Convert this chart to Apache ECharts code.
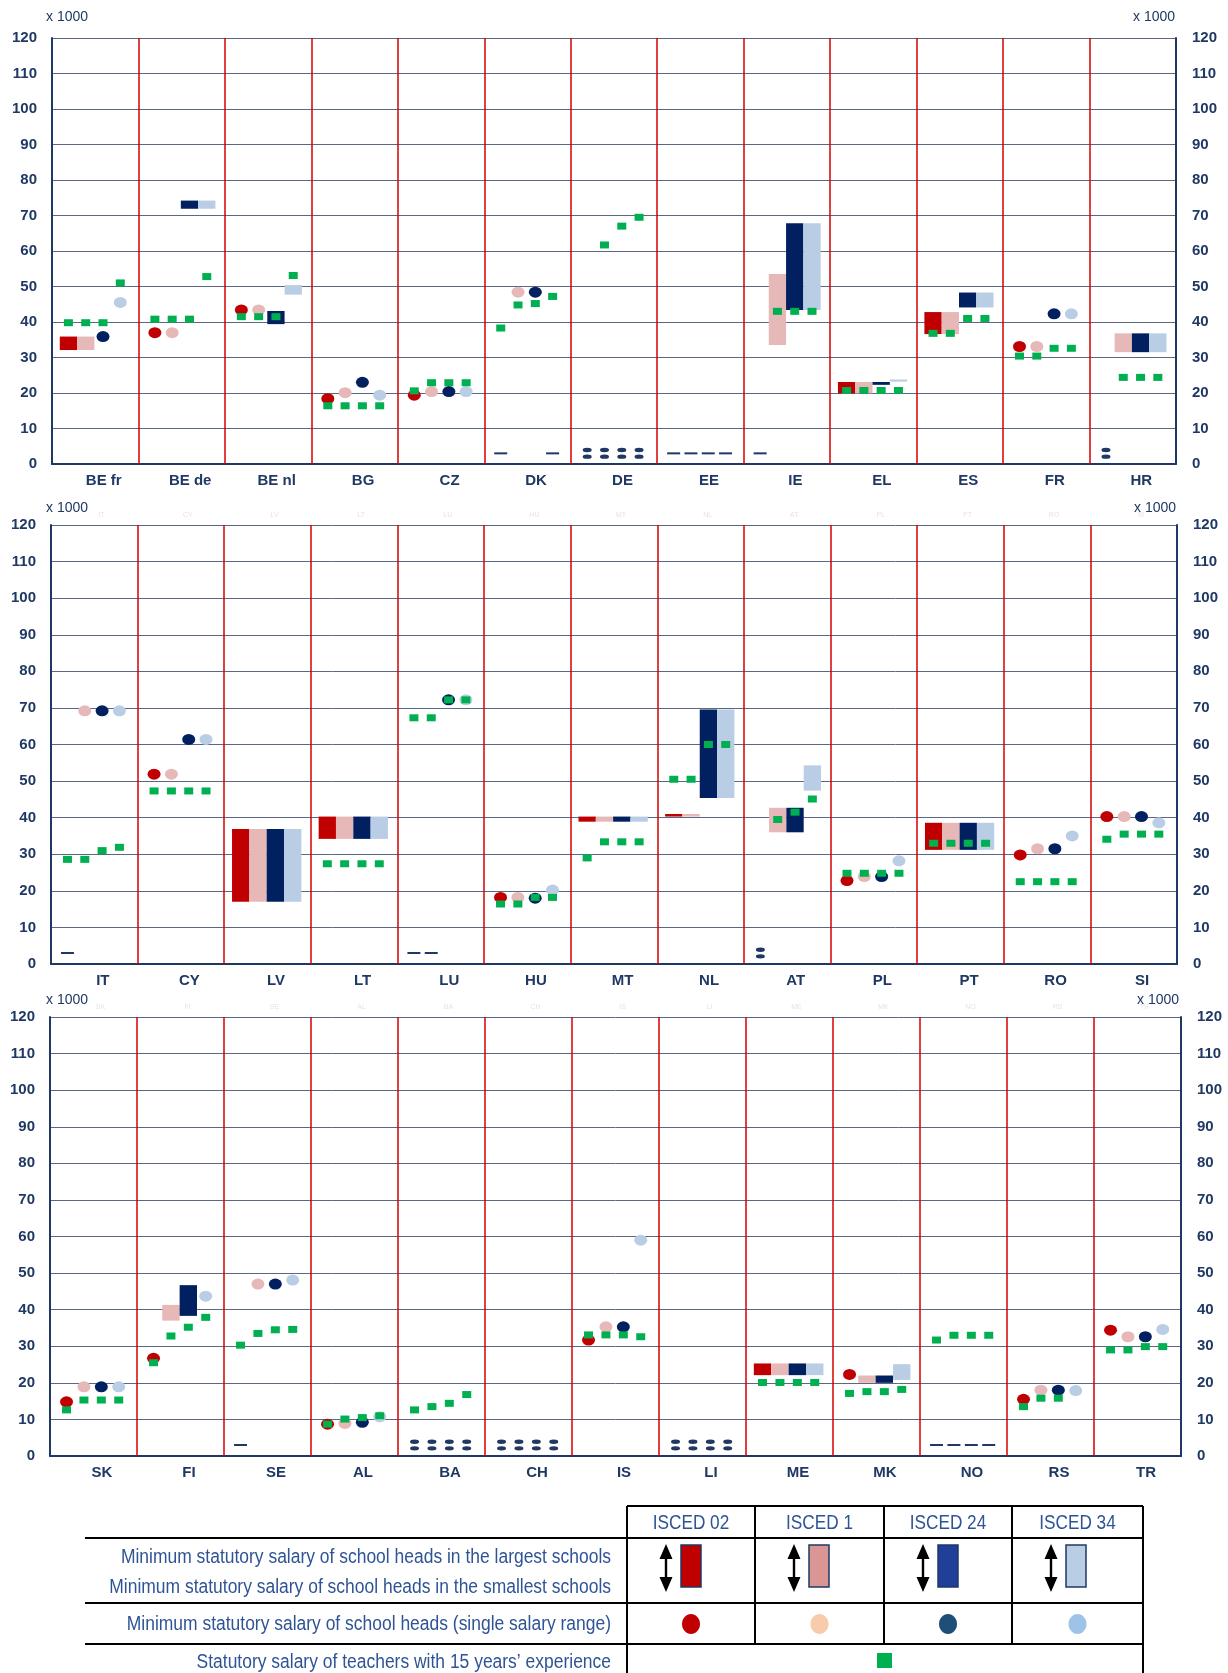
<!DOCTYPE html>
<html>
<head>
<meta charset="utf-8">
<script src="https://cdn.jsdelivr.net/npm/echarts@6/dist/echarts.min.js"></script>
<style>
html, body { margin: 0; padding: 0; background: #fff; }
#chartBox { width: 1228px; height: 1673px; }
</style>
</head>
<body>
<div id="chartBox"></div>
<script>
const _ = null

// countries, 13 per panel
const countries1 = ['BE fr', 'BE de', 'BE nl', 'BG', 'CZ', 'DK', 'DE', 'EE', 'IE', 'EL', 'ES', 'FR', 'HR']
const countries2 = ['IT', 'CY', 'LV', 'LT', 'LU', 'HU', 'MT', 'NL', 'AT', 'PL', 'PT', 'RO', 'SI']
const countries3 = ['SK', 'FI', 'SE', 'AL', 'BA', 'CH', 'IS', 'LI', 'ME', 'MK', 'NO', 'RS', 'TR']

// values x 1000, one row per panel
// min = smallest schools, max = largest schools, single = single salary range
// notes: '-' not applicable, ':' not available
const min02 = [
  32.1, _, _, _, _, _, _, _, _, 19.9, 36.6, _, _,
  _, _, 17.0, 34.2, _, _, 38.9, 40.3, _, _, 31.2, _, _,
  _, _, _, _, _, _, _, _, 22.1, _, _, _, _]
const max02 = [
  35.9, _, _, _, _, _, _, _, _, 23.1, 42.8, _, _,
  _, _, 36.9, 40.3, _, _, 40.3, 41.0, _, _, 38.6, _, _,
  _, _, _, _, _, _, _, _, 25.3, _, _, _, _]
const single02 = [
  _, 37.0, 43.4, 18.4, 19.4, _, _, _, _, _, _, 33.1, _,
  _, 51.9, _, _, _, 18.2, _, _, _, 22.8, _, 29.8, 40.3,
  14.8, 26.7, _, 8.7, _, _, 31.7, _, _, 22.3, _, 15.5, 34.4]
const teacher02 = [
  39.8, 40.8, 41.5, 16.4, 20.6, 38.3, _, _, _, 20.7, 36.8, 30.4, _,
  28.6, 47.3, _, 27.4, 67.3, 16.4, 29.0, 50.5, _, 24.8, 33.0, 22.5, 34.1,
  12.6, 25.5, 30.3, 8.7, 12.6, _, 33.1, _, 20.1, 17.1, 31.7, 13.5, 29.0]
const notes02 = [
  '', '', '', '', '', '-', ':', '-', '-', '', '', '', ':',
  '-', '', '', '', '-', '', '', '', ':', '', '', '', '',
  '', '', '-', '', ':', ':', '', ':', '', '', '-', '', '']

const min1 = [
  32.1, _, _, _, _, _, _, _, 33.5, 19.9, 36.6, _, 31.5,
  _, _, 17.0, 34.2, _, _, 38.9, 40.3, 36.0, _, 31.2, _, _,
  _, 37.0, _, _, _, _, _, _, 22.1, 20.0, _, _, _]
const max1 = [
  35.9, _, _, _, _, _, _, _, 53.5, 23.1, 42.8, _, 36.8,
  _, _, 36.9, 40.3, _, _, 40.3, 41.0, 42.7, _, 38.6, _, _,
  _, 41.3, _, _, _, _, _, _, 25.3, 22.0, _, _, _]
const single1 = [
  _, 37.0, 43.4, 20.1, 20.4, 48.4, _, _, _, _, _, 33.1, _,
  69.2, 51.9, _, _, _, 18.2, _, _, _, 23.9, _, 31.5, 40.3,
  18.9, _, 47.0, 8.9, _, _, 35.3, _, _, _, _, 18.0, 32.6]
const teacher1 = [
  39.8, 40.8, 41.5, 16.4, 22.9, 44.8, 61.7, _, 43.0, 20.7, 36.8, 30.4, 24.4,
  28.6, 47.3, _, 27.4, 67.3, 16.4, 33.4, 50.5, 39.5, 24.8, 33.0, 22.5, 35.5,
  15.3, 32.8, 33.5, 10.1, 13.5, _, 33.1, _, 20.1, 17.6, 33.0, 15.8, 29.0]
const notes1 = [
  '', '', '', '', '', '', ':', '-', '', '', '', '', '',
  '', '', '', '', '-', '', '', '', '', '', '', '', '',
  '', '', '', '', ':', ':', '', ':', '', '', '-', '', '']

const min24 = [
  _, 71.9, 39.4, _, _, _, _, _, 43.4, 22.3, 44.1, _, 31.5,
  _, _, 17.0, 34.2, _, _, 38.9, 45.4, 36.0, _, 31.2, _, _,
  _, 38.3, _, _, _, _, _, _, 22.1, 20.0, _, _, _]
const max24 = [
  _, 74.2, 43.1, _, _, _, _, _, 67.8, 23.1, 48.3, _, 36.8,
  _, _, 36.9, 40.3, _, _, 40.3, 69.6, 42.7, _, 38.6, _, _,
  _, 46.7, _, _, _, _, _, _, 25.3, 22.0, _, _, _]
const single24 = [
  35.9, _, _, 23.0, 20.4, 48.4, _, _, _, _, _, 42.3, _,
  69.2, 61.4, _, _, 72.2, 18.0, _, _, _, 23.9, _, 31.5, 40.3,
  18.9, _, 47.0, 9.2, _, _, 35.3, _, _, _, _, 18.0, 32.6]
const teacher24 = [
  39.8, 40.8, 41.5, 16.4, 22.9, 45.2, 67.0, _, 43.0, 20.7, 41.0, 32.6, 24.4,
  31.0, 47.3, _, 27.4, 72.2, 18.2, 33.4, 60.0, 41.5, 24.8, 33.0, 22.5, 35.5,
  15.3, 35.2, 34.5, 10.5, 14.4, _, 33.1, _, 20.1, 17.6, 33.0, 15.8, 29.9]
const notes24 = [
  '', '', '', '', '', '', ':', '-', '', '', '', '', '',
  '', '', '', '', '', '', '', '', '', '', '', '', '',
  '', '', '', '', ':', ':', '', ':', '', '', '-', '', '']

const min34 = [
  _, 71.9, 47.7, _, _, _, _, _, 43.4, 23.2, 44.1, _, 31.5,
  _, _, 17.0, 34.2, _, _, 38.9, 45.4, 47.4, _, 31.2, _, _,
  _, _, _, _, _, _, _, _, 22.1, 20.8, _, _, _]
const max34 = [
  _, 74.2, 50.4, _, _, _, _, _, 67.8, 23.8, 48.3, _, 36.8,
  _, _, 36.9, 40.3, _, _, 40.3, 69.6, 54.3, _, 38.6, _, _,
  _, _, _, _, _, _, _, _, 25.3, 25.1, _, _, _]
const single34 = [
  45.5, _, _, 19.4, 20.4, _, _, _, _, _, _, 42.3, _,
  69.2, 61.4, _, _, 72.2, 20.2, _, _, _, 28.2, _, 35.0, 38.6,
  18.9, 43.7, 48.1, 10.7, _, _, 59.0, _, _, _, _, 17.9, 34.6]
const teacher34 = [
  51.0, 52.8, 53.1, 16.4, 22.9, 47.2, 69.5, _, 43.0, 20.7, 41.0, 32.6, 24.4,
  31.9, 47.3, _, 27.4, 72.2, 18.2, 33.4, 60.0, 45.1, 24.8, 33.0, 22.5, 35.5,
  15.3, 37.9, 34.6, 11.0, 16.8, _, 32.6, _, 20.1, 18.2, 33.0, _, 29.9]
const notes34 = [
  '', '', '', '', '', '-', ':', '-', '', '', '', '', '',
  '', '', '', '', '', '', '', '', '', '', '', '', '',
  '', '', '', '', ':', ':', '', ':', '', '', '-', '', '']

const levelNames = ['ISCED 02', 'ISCED 1', 'ISCED 24', 'ISCED 34']
const noteLevel = 3 // height of the '-' and ':' marks

const FONT = '"Liberation Sans", Arial, sans-serif'
const NAVY = '#1f3864'

const levels = [
  { min: min02, max: max02, single: single02, teacher: teacher02, notes: notes02, color: '#c00000' },
  { min: min1, max: max1, single: single1, teacher: teacher1, notes: notes1, color: '#e6b9b8' },
  { min: min24, max: max24, single: single24, teacher: teacher24, notes: notes24, color: '#002060' },
  { min: min34, max: max34, single: single34, teacher: teacher34, notes: notes34, color: '#b9cde5' }
]
const panels = [countries1, countries2, countries3]
const grids = [
  { left: 52, right: 52, top: 38, height: 426 },
  { left: 51, right: 51, top: 525, height: 439 },
  { left: 50, right: 47, top: 1017, height: 439 }
]

// position of the slot of level j inside country i
function slotX (i, j) {
  return i + 0.19 + 0.2 * j
}

function renderRange (params, api) {
  let lo = api.coord([api.value(0) - 0.1, api.value(1)])
  let hi = api.coord([api.value(0) + 0.1, api.value(2)])
  return {
    type: 'rect',
    shape: { x: lo[0], y: hi[1], width: hi[0] - lo[0], height: lo[1] - hi[1] },
    style: { fill: api.visual('color') }
  }
}

let xAxis = []
let yAxis = []
let series = []

panels.forEach((names, p) => {
  let off = p * 13
  xAxis.push({ gridIndex: p, type: 'value', min: 0, max: 13, show: false })
  xAxis.push({
    gridIndex: p, type: 'category', position: 'bottom', data: names,
    axisLine: { lineStyle: { color: NAVY, width: 2 } },
    axisTick: { show: false },
    axisLabel: { color: NAVY, fontWeight: 'bold', fontSize: 15, fontFamily: FONT, margin: 9, padding: [0, 0, 0, 17] },
    splitLine: { show: false }
  })
  xAxis.push({
    gridIndex: p, type: 'category', position: 'top', data: names, show: p > 0,
    axisLine: { show: false }, axisTick: { show: false },
    axisLabel: { color: '#e4e4e4', fontSize: 7, fontFamily: FONT, margin: 6, padding: [0, 0, 0, 14] }
  })
  yAxis.push({
    gridIndex: p, type: 'value', min: 0, max: 120, interval: 10, position: 'left',
    axisLine: { show: true, lineStyle: { color: NAVY, width: 2 } },
    axisTick: { show: false },
    axisLabel: { color: NAVY, fontWeight: 'bold', fontSize: 15, fontFamily: FONT, margin: 15 },
    splitLine: { lineStyle: { color: '#5b6785', width: 1 } }
  })
  yAxis.push({
    gridIndex: p, type: 'value', min: 0, max: 120, interval: 10, position: 'right',
    axisLine: { show: true, lineStyle: { color: NAVY, width: 2 } },
    axisTick: { show: false },
    axisLabel: { color: NAVY, fontWeight: 'bold', fontSize: 15, fontFamily: FONT, margin: 16 },
    splitLine: { show: false }
  })

  let xi = p * 3
  let yi = p * 2

  // red separators between countries
  series.push({
    type: 'scatter', xAxisIndex: xi, yAxisIndex: yi, data: [], z: 1, silent: true,
    markLine: {
      silent: true, symbol: 'none', animation: false,
      label: { show: false },
      lineStyle: { color: '#d40000', width: 1.5, type: 'solid' },
      data: names.slice(1).map((n, k) => ({ xAxis: k + 1 }))
    }
  })

  levels.forEach((lv, j) => {
    let bars = []
    let dots = []
    let greens = []
    let dashes = []
    let missing = []
    names.forEach((n, i) => {
      let k = off + i
      let x = slotX(i, j)
      if (lv.min[k] != null) bars.push([x, lv.min[k], lv.max[k]])
      if (lv.single[k] != null) dots.push([x, lv.single[k]])
      if (lv.teacher[k] != null) greens.push([x, lv.teacher[k]])
      if (lv.notes[k] === '-') dashes.push([x, noteLevel])
      if (lv.notes[k] === ':') missing.push([x, noteLevel])
    })
    series.push({
      name: levelNames[j], type: 'custom', xAxisIndex: xi, yAxisIndex: yi, z: 2,
      itemStyle: { color: lv.color },
      encode: { x: 0, y: [1, 2] },
      renderItem: renderRange,
      data: bars
    })
    series.push({
      name: levelNames[j], type: 'scatter', xAxisIndex: xi, yAxisIndex: yi, z: 3,
      symbol: 'circle', symbolSize: [13, 11],
      itemStyle: { color: lv.color, opacity: 1 },
      data: dots
    })
    series.push({
      type: 'scatter', xAxisIndex: xi, yAxisIndex: yi, z: 3,
      symbol: 'rect', symbolSize: [13, 2],
      itemStyle: { color: NAVY, opacity: 1 },
      data: dashes
    })
    series.push({
      type: 'scatter', xAxisIndex: xi, yAxisIndex: yi, z: 3,
      symbol: 'path://M0,2A4,2,0,1,1,8,2A4,2,0,1,1,0,2ZM0,8A4,2,0,1,1,8,8A4,2,0,1,1,0,8Z',
      symbolSize: [9, 11],
      itemStyle: { color: NAVY, opacity: 1 },
      data: missing
    })
    series.push({
      name: 'teachers', type: 'scatter', xAxisIndex: xi, yAxisIndex: yi, z: 4,
      symbol: 'rect', symbolSize: [9, 7],
      itemStyle: { color: '#00b050', opacity: 1 },
      data: greens
    })
  })
})

// "x 1000" unit labels
let graphic = []
let unitPos = [[46, 10, 1133, 10], [46, 501, 1134, 501], [46, 993, 1137, 993]]
unitPos.forEach(u => {
  graphic.push({ type: 'text', left: u[0], top: u[1], style: { text: 'x 1000', fill: NAVY, font: '14px ' + FONT } })
  graphic.push({ type: 'text', left: u[2], top: u[3], style: { text: 'x 1000', fill: NAVY, font: '14px ' + FONT } })
})

// legend table
const TXT = '#2f5496'
const colX = [627, 755, 884, 1012, 1143]
const rectColors = ['#c00000', '#d99694', '#1f3f99', '#b9cde5']
const dotColors = ['#c00000', '#f8cbad', '#1f4e79', '#9dc3e6']
function hline (y, x1, x2) {
  graphic.push({ type: 'line', shape: { x1: x1, y1: y, x2: x2, y2: y }, style: { stroke: '#000', lineWidth: 2 } })
}
function vline (x, y1, y2) {
  graphic.push({ type: 'line', shape: { x1: x, y1: y1, x2: x, y2: y2 }, style: { stroke: '#000', lineWidth: 2 } })
}
hline(1506, 627, 1143)
hline(1538, 85, 1143)
hline(1603, 85, 1143)
hline(1644, 85, 1143)
vline(627, 1506, 1673)
vline(1143, 1506, 1673)
vline(755, 1506, 1644)
vline(884, 1506, 1644)
vline(1012, 1506, 1644)

// the legend font is a narrow one: squeeze Liberation Sans
let rowText = [
  ['Minimum statutory salary of school heads in the largest schools', 1557],
  ['Minimum statutory salary of school heads in the smallest schools', 1587],
  ['Minimum statutory salary of school heads (single salary range)', 1624],
  ['Statutory salary of teachers with 15 years\u2019 experience', 1662]
]
rowText.forEach(r => {
  graphic.push({
    type: 'text', x: 611, y: r[1], scaleX: 0.873,
    style: { text: r[0], fill: TXT, font: '20px ' + FONT, textAlign: 'right', textVerticalAlign: 'middle' }
  })
})

levelNames.forEach((name, k) => {
  let left = colX[k]
  let cx = (colX[k] + colX[k + 1]) / 2
  graphic.push({
    type: 'text', x: cx, y: 1523, scaleX: 0.86,
    style: { text: name, fill: TXT, font: '20px ' + FONT, textAlign: 'center', textVerticalAlign: 'middle' }
  })
  // double arrow
  let ax = left + 39
  let t = 1544
  let b = 1592
  graphic.push({
    type: 'polygon',
    shape: {
      points: [[ax, t], [ax + 6.5, t + 15], [ax + 1.2, t + 15], [ax + 1.2, b - 15], [ax + 6.5, b - 15], [ax, b],
        [ax - 6.5, b - 15], [ax - 1.2, b - 15], [ax - 1.2, t + 15], [ax - 6.5, t + 15]]
    },
    style: { fill: '#000' }
  })
  graphic.push({
    type: 'rect', shape: { x: left + 54, y: 1545, width: 20, height: 42 },
    style: { fill: rectColors[k], stroke: '#1f3864', lineWidth: 1.5 }
  })
  graphic.push({
    type: 'ellipse', shape: { cx: cx, cy: 1624, rx: 9, ry: 10 },
    style: { fill: dotColors[k] }
  })
})
graphic.push({ type: 'rect', shape: { x: 877, y: 1653, width: 15, height: 15 }, style: { fill: '#00b050' } })

let myChart = echarts.init(document.getElementById('chartBox'))
myChart.setOption({
  animation: false,
  backgroundColor: '#fff',
  grid: grids,
  xAxis: xAxis,
  yAxis: yAxis,
  series: series,
  graphic: graphic
})
</script>
</body>
</html>
